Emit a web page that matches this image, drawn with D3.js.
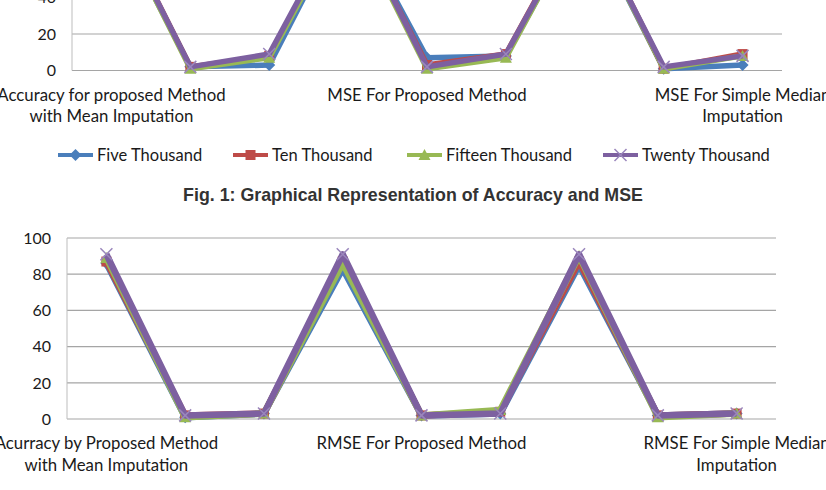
<!DOCTYPE html>
<html><head><meta charset="utf-8">
<script src="https://cdn.jsdelivr.net/npm/d3@7"></script>
<style>
html,body{margin:0;padding:0;background:#fff;}
svg{display:block;}
</style></head>
<body>
<svg id="c" width="826" height="490"></svg>
<script>
// ---------- data ----------
const seriesNames = ["Five Thousand", "Ten Thousand", "Fifteen Thousand", "Twenty Thousand"];
const seriesColors = ["#4A7EBB", "#BE4B48", "#98B954", "#7D60A0"];
const seriesMarkers = ["diamond", "square", "triangle", "x"];

// Fig. 1 (Accuracy and MSE)
const categoriesFig1 = [
  "Accuracy for proposed Method with Mean Imputation",
  "MSE For proposed Method with Mean Imputation",
  "MSE For Simple Mean Imputation",
  "Accuracy For Proposed Method",
  "MSE For Proposed Method",
  "MSE For Simple Method",
  "Accuracy For Simple Median Imputation",
  "MSE For Median Imputation",
  "MSE For Simple Median Imputation"
];
const tickLabelsFig1 = [
  ["Accuracy for proposed Method", "with Mean  Imputation"],
  ["MSE For Proposed Method"],
  ["MSE For Simple Median", "Imputation"]
];
const fig1Five    = [86, 2, 3, 87, 7, 8, 86, 1, 3];
const fig1Ten     = [88, 2, 8, 88, 3, 9, 88, 1, 9];
const fig1Fifteen = [87, 1, 7, 87, 1, 7, 87, 1, 8];
const fig1Twenty  = [88, 2, 9, 89, 2, 9, 87, 2, 8];
const yTicks = [0, 20, 40, 60, 80, 100];

// Fig. 2 (Accuracy and RMSE)
const categoriesFig2 = [
  "Acurracy by Proposed Method with Mean Imputation",
  "RMSE For Proposed Method with Mean Imputation",
  "RMSE For Simple Mean Imputation",
  "Accuracy For Proposed Method",
  "RMSE For Proposed Method",
  "RMSE For Simple Method",
  "Accuracy For Simple Median Imputation",
  "RMSE For Median Imputation",
  "RMSE For Simple Median Imputation"
];
const tickLabelsFig2 = [
  ["Acurracy by Proposed Method", "with Mean Imputation"],
  ["RMSE For Proposed Method"],
  ["RMSE For Simple  Median", "Imputation"]
];
const fig2Five    = [86, 1, 3, 83, 2, 3, 85, 2, 3];
const fig2Ten     = [87, 2, 3, 87, 2, 4, 87, 2, 3];
const fig2Fifteen = [89, 1, 3, 86, 2, 5, 90, 1, 3];
const fig2Twenty  = [91, 2, 3, 91, 2, 3, 91, 2, 3];

const captionFig1 = "Fig. 1: Graphical Representation of Accuracy and MSE";
const labelEvery = 4;

// ---------- drawing ----------
const svg = d3.select("#c");
const FONT = "Lato, 'Open Sans', sans-serif";

function marker(g, type, x, y, color) {
  const s = 5;
  if (type === "diamond") {
    g.append("path").attr("d", `M${x},${y-s-1}L${x+s+1},${y}L${x},${y+s+1}L${x-s-1},${y}Z`).attr("fill", color);
  } else if (type === "square") {
    g.append("rect").attr("x", x-s).attr("y", y-s).attr("width", 2*s).attr("height", 2*s).attr("fill", color);
  } else if (type === "triangle") {
    g.append("path").attr("d", `M${x},${y-s-1}L${x+s+1},${y+s}L${x-s-1},${y+s}Z`).attr("fill", color);
  } else {
    g.append("path").attr("d", `M${x-s-1},${y-s-1}L${x+s+1},${y+s+1}M${x+s+1},${y-s-1}L${x-s-1},${y+s+1}`)
      .attr("stroke", "#9A86BC").attr("stroke-width", 1.5).attr("fill", "none");
  }
}

function drawChart(cfg) {
  const g = svg.append("g");
  const x = d3.scaleBand().domain(cfg.categories).range([cfg.left, cfg.right]);
  const y = d3.scaleLinear().domain([0, 100]).range([cfg.y0, cfg.y100]);
  const cx = c => x(c) + x.bandwidth() / 2;

  // gridlines
  g.selectAll("line.grid").data(yTicks).join("line")
    .attr("x1", cfg.left).attr("x2", cfg.right)
    .attr("y1", d => y(d)).attr("y2", d => y(d))
    .attr("stroke", "#A5A5A5").attr("stroke-width", 1.2);
  g.append("line").attr("x1", cfg.left).attr("x2", cfg.left)
    .attr("y1", y(0)).attr("y2", y(100)).attr("stroke", "#BDBDBD").attr("stroke-width", 1);

  // y axis labels
  g.selectAll("text.yt").data(yTicks).join("text")
    .attr("x", cfg.left - 16).attr("y", d => y(d)).attr("dy", "0.36em")
    .attr("text-anchor", "end").attr("font-family", FONT).attr("font-size", 16).attr("fill", "#1a1a1a")
    .text(d => d);

  // x labels (every 4th category shown)
  const shown = cfg.categories.filter((c, i) => i % labelEvery === 0);
  shown.forEach((c, k) => {
    const lines = cfg.tickLabels[k];
    const t = g.append("text").attr("text-anchor", "middle").attr("font-family", FONT)
      .attr("font-size", 16.8).attr("fill", "#1a1a1a");
    lines.forEach((ln, j) => {
      t.append("tspan").attr("x", cx(c)).attr("y", y(0) + 30 + j * 21.5).text(ln);
    });
  });

  // series
  const line = d3.line().x((d, i) => cx(cfg.categories[i])).y(d => y(d));
  cfg.series.forEach((vals, si) => {
    const sg = g.append("g");
    sg.append("path").attr("d", line(vals)).attr("fill", "none")
      .attr("stroke", seriesColors[si]).attr("stroke-width", cfg.lineWidth).attr("stroke-linejoin", "round");
    vals.forEach((v, i) => marker(sg, seriesMarkers[si], cx(cfg.categories[i]), y(v), seriesColors[si]));
  });
  return g;
}

drawChart({
  categories: categoriesFig1, tickLabels: tickLabelsFig1,
  series: [fig1Five, fig1Ten, fig1Fifteen, fig1Twenty],
  left: 72, right: 782, y0: 70.5, y100: 70.5 - 182.5, lineWidth: 5.5
});

drawChart({
  categories: categoriesFig2, tickLabels: tickLabelsFig2,
  series: [fig2Five, fig2Ten, fig2Fifteen, fig2Twenty],
  left: 67, right: 776, y0: 419, y100: 238, lineWidth: 6.5
});

// legend for Fig. 1
const legendX = [58, 233, 407, 603];
const lg = svg.append("g");
seriesNames.forEach((n, i) => {
  const lx = legendX[i], ly = 155;
  lg.append("line").attr("x1", lx).attr("x2", lx + 35).attr("y1", ly).attr("y2", ly)
    .attr("stroke", seriesColors[i]).attr("stroke-width", 4);
  marker(lg, seriesMarkers[i], lx + 17.5, ly, seriesColors[i]);
  lg.append("text").attr("x", lx + 39).attr("y", ly).attr("dy", "0.36em")
    .attr("font-family", FONT).attr("font-size", 16.5).attr("fill", "#1a1a1a").text(n);
});

// caption
svg.append("text").attr("x", 413).attr("y", 195).attr("dy", "0.36em").attr("text-anchor", "middle")
  .attr("font-family", "'Liberation Sans', Arial, sans-serif")
  .attr("font-weight", "bold").attr("font-size", 17.8).attr("fill", "#333").text(captionFig1);
</script>
</body></html>
